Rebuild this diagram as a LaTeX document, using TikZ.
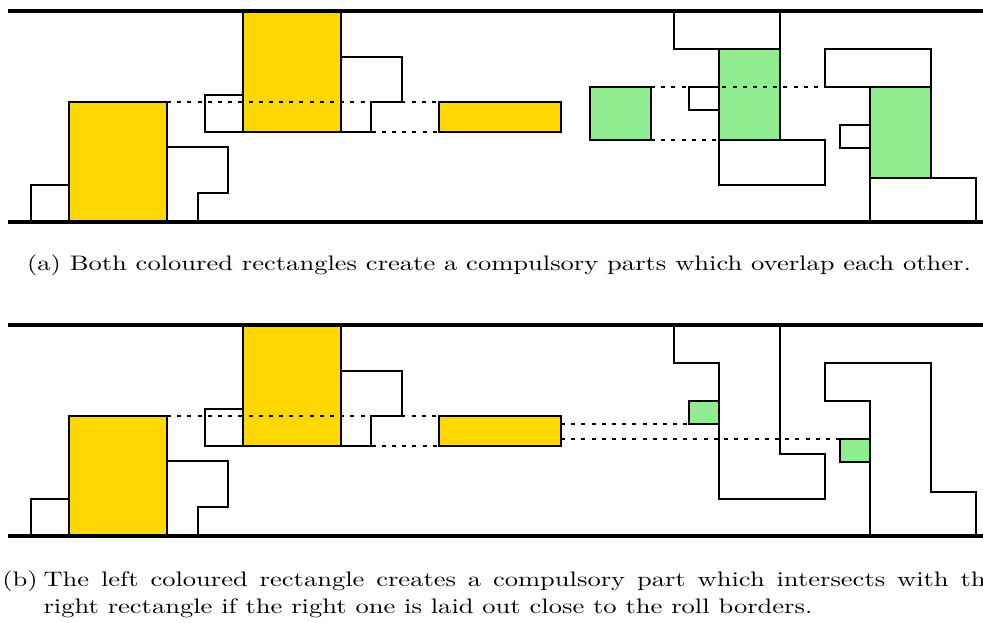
\documentclass[tikz,border=0pt]{standalone}
\usepackage{xcolor}
\definecolor{cyel}{HTML}{FFD700}
\definecolor{cgrn}{HTML}{90EE90}
\begin{document}
\begin{tikzpicture}[x=0.476pt,y=-0.476pt,
  box/.style={draw=black,line width=0.65pt},
  ybox/.style={box,fill=cyel},
  gbox/.style={box,fill=cgrn},
  roll/.style={line width=1.5pt},
  guide/.style={line width=1.2pt,dash pattern=on 1.9pt off 2.95pt},
  captxt/.style={font=\fontsize{10}{12.9}\selectfont, inner sep=0pt}]
\useasboundingbox (0,0) rectangle (983,623);
% common left part of both panels
\foreach \o in {0,314}{
\begin{scope}[shift={(0,\o)}]
  \draw[box] (31,185) rectangle (69,222);
  \draw[ybox] (69,102) rectangle (167,222);
  \draw[box] (167,147) -- (228,147) -- (228,193) -- (198,193) -- (198,222);
  \draw[box] (205,95) rectangle (243,132);
  \draw[ybox] (243,11) rectangle (341,132);
  \draw[box] (341,57) -- (402,57) -- (402,102) -- (371,102) -- (371,132) -- (341,132);
  \draw[ybox] (439,102) rectangle (561,132);
  \draw[guide] (167,102) -- (439,102);
  \draw[guide] (341,132) -- (439,132);
\end{scope}
}
% panel (a) right part
\draw[box] (674,11) rectangle (780,49);
\draw[gbox] (719,49) rectangle (780,140);
\draw[box] (689,87) rectangle (719,110);
\draw[box] (719,140) rectangle (825,185);
\draw[box] (825,49) rectangle (931,87);
\draw[gbox] (870,87) rectangle (931,178);
\draw[box] (840,125) rectangle (870,148);
\draw[box] (870,178) rectangle (976,222);
\draw[gbox] (590,87) rectangle (651,140);
\draw[guide] (651,87) -- (870,87);
\draw[guide] (651,140) -- (719,140);
% panel (b) right part
\begin{scope}[shift={(0,314)}]
  \draw[box] (674,11) -- (674,49) -- (719,49) -- (719,185) -- (825,185) -- (825,140) -- (780,140) -- (780,11);
  \draw[gbox] (689,87) rectangle (719,110);
  \draw[box] (870,222) -- (870,87) -- (825,87) -- (825,49) -- (931,49) -- (931,178) -- (976,178) -- (976,222);
  \draw[gbox] (840,125) rectangle (870,148);
  \draw[guide] (561,110) -- (689,110);
  \draw[guide] (561,125) -- (840,125);
\end{scope}
% roll borders
\foreach \o in {0,314}{
  \draw[roll] (8,11+\o) -- (983,11+\o);
  \draw[roll] (8,222+\o) -- (983,222+\o);
}
% captions
\node[captxt,anchor=base] (capa) at (499,270)
  {\scalebox{1.263}[1]{(a) Both coloured rectangles create a compulsory parts which overlap each other.}};
\node[captxt,anchor=base west] (capb) at (2,586)
  {\scalebox{1.263}[1]{\parbox[t]{375pt}{\hangindent=15.5pt\hangafter=1\noindent
   \makebox[15.5pt][l]{(b)}The left coloured rectangle creates a compulsory part which intersects with the\linebreak
   right rectangle if the right one is laid out close to the roll borders.}}};
\end{tikzpicture}
\end{document}
